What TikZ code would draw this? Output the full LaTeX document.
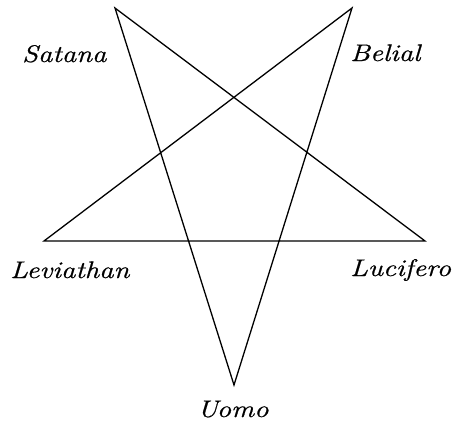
\documentclass[tikz,border=0pt]{standalone}
\usepackage{fontspec}
\newfontfamily\lblfont{Latin Modern Roman}[FakeBold=0.7]
\newcommand{\lbltext}[1]{\scalebox{1.2}[1]{\lblfont\itshape\fontsize{24}{27}\selectfont #1}}
\begin{document}
\begin{tikzpicture}[x=1pt,y=-1pt,
  lbl/.style={anchor=base west,inner sep=0pt},
  edge/.style={line width=1.3pt,line join=miter}]
\useasboundingbox (0,0) rectangle (453,426);
\coordinate (tl) at (115,8);
\coordinate (tr) at (352,8);
\coordinate (l) at (44,241);
\coordinate (r) at (425,241);
\coordinate (b) at (234,385);
\draw[edge] (tl) -- (b) -- (tr) -- (l) -- (r) -- cycle;
\node[lbl] (satana) at (22,62) {\lbltext{Satana}};
\node[lbl] (belial) at (350,61) {\lbltext{Belial}};
\node[lbl] (leviathan) at (10,278) {\lbltext{Leviathan}};
\node[lbl] (lucifero) at (350,276) {\lbltext{Lucifero}};
\node[lbl] (uomo) at (197,417) {\lbltext{Uomo}};
\end{tikzpicture}
\end{document}
